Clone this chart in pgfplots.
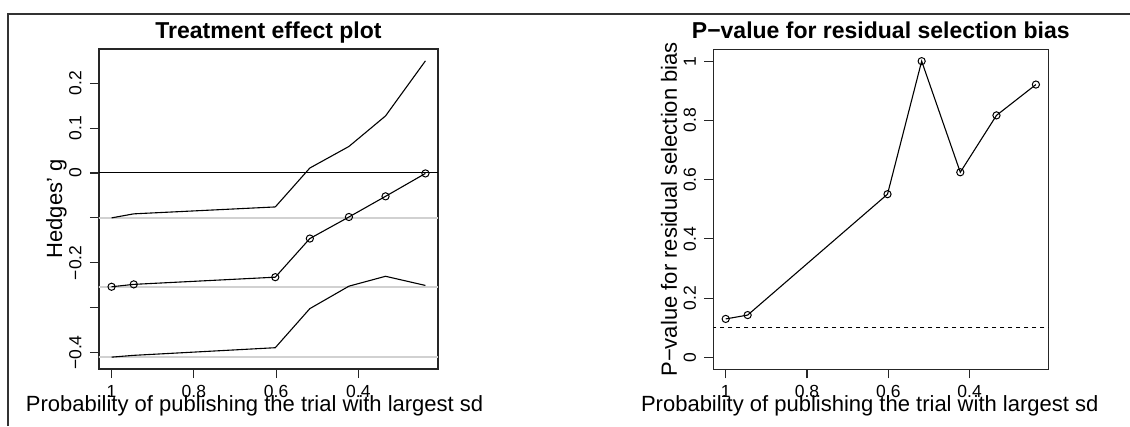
\documentclass[border=0pt]{standalone}
\usepackage{pgfplots}
\pgfplotsset{compat=1.18}
\usepackage{fontspec}
\setmainfont{Liberation Sans}

% shared look of both panels (1pt = 1 output pixel)
\pgfplotsset{
  rpanel/.style={
    scale only axis,
    x dir=reverse,
    xmin=0.2065, xmax=1.0305,
    axis line style={line width=1.2pt, black!85},
    tick align=outside,
    xtick pos=left, ytick pos=left,
    major tick length=9pt,
    every tick/.style={line width=1.1pt, black!85},
    xtick={0.4,0.6,0.8,1},
    xticklabels={0.4,0.6,0.8,1},
    tick label style={font=\fontsize{17.5}{17.5}\selectfont},
    xticklabel style={anchor=base, inner sep=0pt},
    xticklabel shift=19pt,
    yticklabel style={rotate=90, anchor=base, inner sep=0pt},
    yticklabel shift=8.5pt,
    title style={font=\fontsize{23}{23}\selectfont\bfseries, anchor=base, inner sep=0pt},
    label style={font=\fontsize{22}{22}\selectfont, inner sep=0pt},
    xlabel={Probability of publishing the trial with largest sd},
  },
  dline/.style={line width=1.1pt, black},
  dmark/.style={line width=1.1pt, black, mark=o, mark size=3.6pt,
    mark options={line width=1pt}},
}

\pgfplotstableread{
p      est      lo       hi
1.000  -0.2533  -0.410   -0.100
0.946  -0.248   -0.406   -0.091
0.602  -0.232   -0.389   -0.0756
0.518  -0.146   -0.302    0.011
0.423  -0.098   -0.252    0.059
0.334  -0.052   -0.230    0.127
0.237  -0.001   -0.2504   0.2496
}\effect

\pgfplotstableread{
p      pval
1.000  0.130
0.946  0.143
0.602  0.551
0.518  1.000
0.423  0.625
0.334  0.817
0.237  0.921
}\bias

\begin{document}
\begin{tikzpicture}
\useasboundingbox (0pt,0pt) rectangle (1130pt,426pt);

% outer frame
\draw[line width=2pt, black!80] (8.3pt,0pt) -- (8.3pt,411.7pt) -- (1135pt,411.7pt);

% left panel: treatment effect
\begin{axis}[rpanel,
  at={(99pt,57pt)}, anchor=south west,
  width=339pt, height=320pt,
  ymin=-0.4364, ymax=0.276,
  ytick={-0.4,-0.3,-0.2,-0.1,0,0.1,0.2},
  yticklabels={−0.4,,−0.2,,0,0.1,0.2},
  title={Treatment effect plot},
  title style={at={(axis description cs:0.5,1.0125)}},
  ylabel={Hedges' g},
  ylabel style={at={(axis description cs:-0.109,0.5)}, anchor=base},
  xlabel style={at={(axis description cs:0.459,-0.1334)}, anchor=base},
]
\addplot[line width=2pt, black!18] coordinates {(0,-0.100) (1.2,-0.100)};
\addplot[line width=2pt, black!18] coordinates {(0,-0.2533) (1.2,-0.2533)};
\addplot[line width=2pt, black!18] coordinates {(0,-0.410) (1.2,-0.410)};
\addplot[line width=1pt, black] coordinates {(0,0) (1.2,0)};
\addplot[dline] table[x=p, y=hi] {\effect};
\addplot[dline] table[x=p, y=lo] {\effect};
\addplot[dmark] table[x=p, y=est] {\effect};
\end{axis}

% right panel: p-value
\begin{axis}[rpanel,
  at={(713.3pt,56.7pt)}, anchor=south west,
  width=335pt, height=320pt,
  ymin=-0.04, ymax=1.04,
  ytick={0,0.2,0.4,0.6,0.8,1},
  yticklabels={0,0.2,0.4,0.6,0.8,1},
  title={P−value for residual selection bias},
  title style={at={(axis description cs:0.5,1.016)}},
  ylabel={P−value for residual selection bias},
  ylabel style={at={(axis description cs:-0.109,0.5)}, anchor=base},
  xlabel style={at={(axis description cs:0.467,-0.1334)}, anchor=base},
]
\addplot[line width=1.1pt, black, dash pattern=on 4pt off 4pt] coordinates {(0,0.1) (1.2,0.1)};
\addplot[dmark] table[x=p, y=pval] {\bias};
\end{axis}
\end{tikzpicture}
\end{document}
